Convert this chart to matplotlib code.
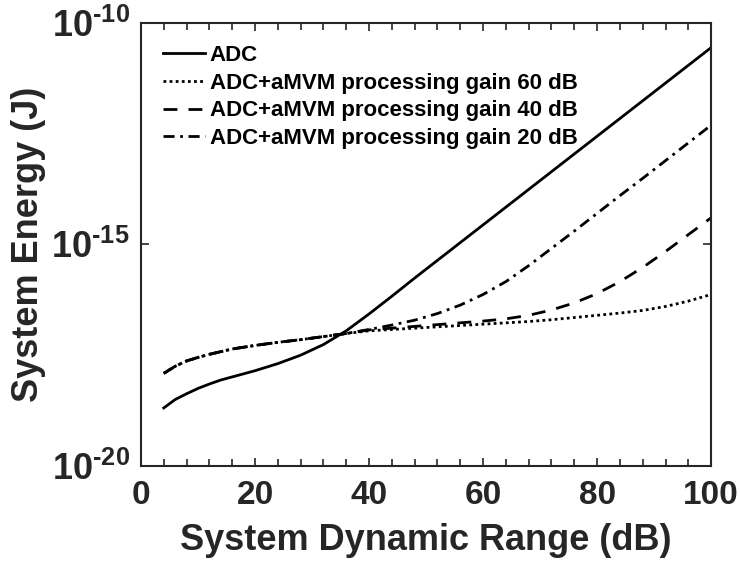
import numpy as np
import matplotlib
matplotlib.use("Agg")
import matplotlib.pyplot as plt
from matplotlib.ticker import MultipleLocator, NullLocator

plt.rcParams['font.family'] = ['Liberation Sans', 'DejaVu Sans']
plt.rcParams['font.weight'] = 'bold'
plt.rcParams['mathtext.fontset'] = 'custom'
plt.rcParams['mathtext.rm'] = 'Liberation Sans:bold'
plt.rcParams['mathtext.bf'] = 'Liberation Sans:bold'
plt.rcParams['mathtext.it'] = 'Liberation Sans:bold'

# Dynamic range (dB)
dynamic_range = [4, 6, 8, 10, 12, 14, 16, 20, 24, 28, 32, 36, 40, 44, 48, 52,
                 56, 60, 64, 68, 72, 76, 80, 84, 88, 92, 96, 100]

# log10 of system energy (J)
adc_log = [-18.69, -18.50, -18.37, -18.25, -18.15, -18.06, -17.99, -17.85, -17.69,
           -17.50, -17.26, -16.95, -16.57, -16.17, -15.76, -15.36, -14.96, -14.56,
           -14.16, -13.76, -13.36, -12.96, -12.56, -12.16, -11.76, -11.36, -10.96, -10.56]
gain60_log = [-17.91, -17.75, -17.63, -17.55, -17.48, -17.42, -17.36, -17.28, -17.21,
              -17.15, -17.08, -17.01, -16.95, -16.92, -16.89, -16.86, -16.83, -16.80,
              -16.77, -16.74, -16.70, -16.65, -16.60, -16.55, -16.49, -16.40, -16.28, -16.13]
gain40_log = [-17.91, -17.75, -17.63, -17.55, -17.48, -17.42, -17.36, -17.28, -17.21,
              -17.15, -17.08, -17.01, -16.93, -16.89, -16.85, -16.81, -16.77, -16.73,
              -16.68, -16.60, -16.48, -16.32, -16.11, -15.84, -15.52, -15.16, -14.78, -14.40]
gain20_log = [-17.91, -17.75, -17.63, -17.55, -17.48, -17.42, -17.36, -17.28, -17.21,
              -17.15, -17.08, -17.01, -16.92, -16.82, -16.71, -16.56, -16.37, -16.13,
              -15.84, -15.48, -15.09, -14.70, -14.30, -13.90, -13.51, -13.11, -12.71, -12.31]

labels = ["ADC",
          "ADC+aMVM processing gain 60 dB",
          "ADC+aMVM processing gain 40 dB",
          "ADC+aMVM processing gain 20 dB"]

fig = plt.figure(figsize=(7.4, 5.69), dpi=100)
ax = fig.add_axes([0.1905, 0.181, 0.7705, 0.779])

lw = 2.0
ax.plot(dynamic_range, 10.0 ** np.array(adc_log), 'k-', lw=lw, label=labels[0])
ax.plot(dynamic_range, 10.0 ** np.array(gain60_log), 'k', ls=(0, (1, 1.2)), lw=lw, label=labels[1])
ax.plot(dynamic_range, 10.0 ** np.array(gain40_log), 'k', ls=(0, (5, 4)), lw=lw, label=labels[2])
ax.plot(dynamic_range, 10.0 ** np.array(gain20_log), 'k', ls=(0, (4, 2, 1, 2)), lw=lw, label=labels[3])

ax.set_yscale('log')
ax.set_xlim(0, 100)
ax.set_ylim(1e-20, 1e-10)
ax.set_xticks([0, 20, 40, 60, 80, 100])
ax.xaxis.set_minor_locator(MultipleLocator(4))
ax.set_yticks([1e-20, 1e-15, 1e-10])
ax.set_yticklabels([r'$10^{\text{-}20}$', r'$10^{\text{-}15}$', r'$10^{\text{-}10}$'])
ax.yaxis.set_minor_locator(NullLocator())

ax.tick_params(which='both', direction='in', top=True, right=True, width=1.2,
               colors='#262626')
ax.tick_params(axis='x', labelsize=24, pad=10)
ax.tick_params(axis='y', labelsize=26, pad=8)
ax.tick_params(which='major', length=6)
ax.tick_params(which='minor', length=5)
for s in ax.spines.values():
    s.set_linewidth(1.5)
    s.set_color('#262626')

ax.set_xlabel("System Dynamic Range (dB)", fontsize=26, fontweight='bold', color='#262626', labelpad=9)
ax.set_ylabel("System Energy (J)", fontsize=26, fontweight='bold', color='#262626', labelpad=4)

ax.legend(loc='upper left', frameon=False, handlelength=1.9,
          handletextpad=0.2, labelspacing=0.3, borderaxespad=0.6,
          prop={'weight': 'bold', 'size': 16})

fig.savefig("out.png", dpi=100)
